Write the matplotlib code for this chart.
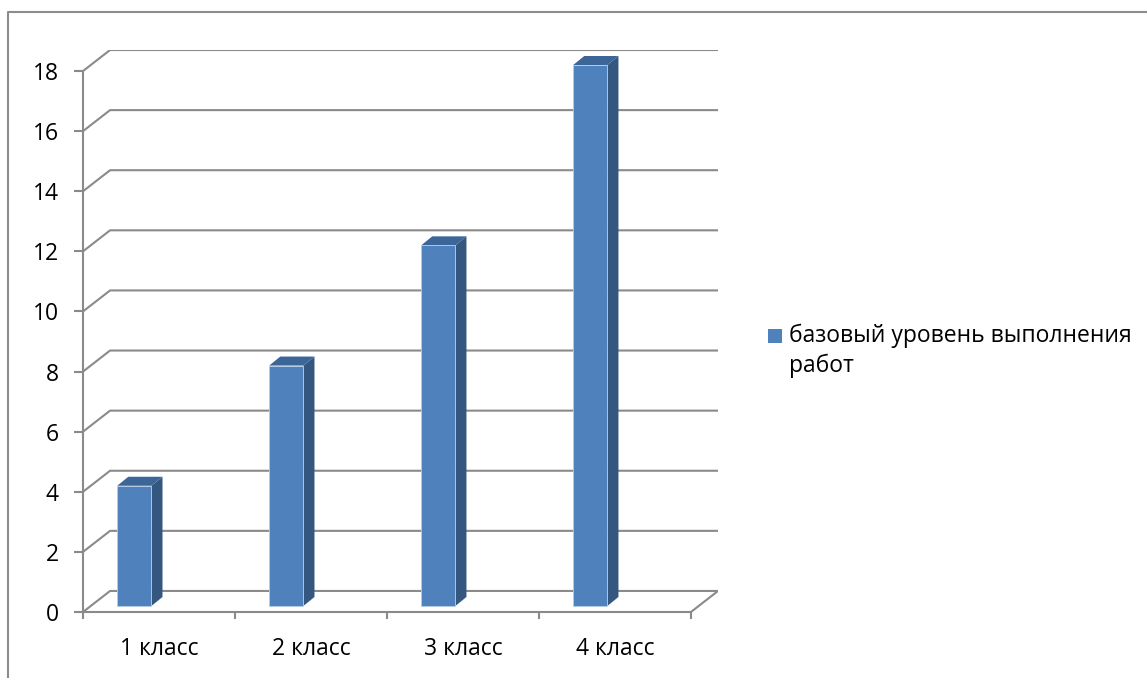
import numpy as np
import matplotlib.pyplot as plt
from matplotlib.patches import Polygon, Rectangle
from matplotlib.lines import Line2D

plt.rcParams['font.family'] = ['Open Sans', 'DejaVu Sans']

categories = ['1 класс', '2 класс', '3 класс', '4 класс']
values = [4, 8, 12, 18]
series_name = 'базовый уровень выполнения\nработ'
yticks = list(range(0, 20, 2))

W, H = 1147, 678
fig = plt.figure(figsize=(W / 100, H / 100), dpi=100)

# depth of the back wall in data units
DX, DY = 0.178, 0.70
x0px, x1px, y0px, y1px = 83, 718, 612, 50
ax = fig.add_axes([x0px / W, 1 - y0px / H, (x1px - x0px) / W, (y0px - y1px) / H])
ax.set_xlim(0, len(categories) + DX)
ax.set_ylim(0, 18 + DY)

grid_c = '#8a8a8a'
lw = 1.5
for v in yticks:
    ax.plot([0, DX, len(categories) + DX], [v, v + DY, v + DY], color=grid_c, lw=lw,
            solid_capstyle='butt', zorder=1)
ax.plot([len(categories), len(categories) + DX], [0, DY], color=grid_c, lw=lw, zorder=1)

front = '#4f81bd'
side = '#34577f'
top = '#3c6698'
bw, sdx, sdy, base = 0.225, 0.073, 0.30, 0.2
for i, v in enumerate(values):
    xl = i + 0.225
    xr = xl + bw
    yt = base + v
    ax.add_patch(Polygon([(xr, base), (xr + sdx, base + sdy), (xr + sdx, yt + sdy), (xr, yt)],
                         closed=True, fc=side, ec='none', zorder=3))
    ax.add_patch(Polygon([(xl, yt), (xr, yt), (xr + sdx, yt + sdy), (xl + sdx, yt + sdy)],
                         closed=True, fc=top, ec='none', zorder=3))
    ax.add_patch(Rectangle((xl, base), bw, v, fc=front, ec='#b9cde5', lw=0.6, zorder=4))

for s in ['top', 'right']:
    ax.spines[s].set_visible(False)
for s in ['left', 'bottom']:
    ax.spines[s].set_color(grid_c)
    ax.spines[s].set_linewidth(lw)
ax.spines['left'].set_bounds(0, 18)
ax.spines['bottom'].set_bounds(0, len(categories))

fs = 16.5
ax.set_yticks(yticks)
ax.tick_params(axis='y', length=6.5, width=lw, color=grid_c, pad=11, labelsize=fs, labelcolor='black')
ax.set_xticks(range(len(categories) + 1))
ax.set_xticklabels([])
ax.set_xticks(np.arange(len(categories)) + 0.5, minor=True)
ax.set_xticklabels(categories, minor=True)
ax.tick_params(axis='x', which='major', length=5, width=lw, color=grid_c)
ax.tick_params(axis='x', which='minor', length=0, pad=18, labelsize=fs, labelcolor='black')

# legend
fig.patches.append(Rectangle((768 / W, 1 - 343 / H), 14 / W, 14 / H, transform=fig.transFigure,
                             fc=front, ec='none'))
for k, line in enumerate(series_name.split('\n')):
    fig.text(789 / W, 1 - (342 + 30 * k) / H, line, fontsize=fs, va='baseline', ha='left')

# chart area border
fig.add_artist(Line2D([8 / W, 8 / W, 1], [0, 1 - 12 / H, 1 - 12 / H], transform=fig.transFigure,
                      color='#8c8c8c', lw=1.5))

fig.savefig('out.png', dpi=100)
